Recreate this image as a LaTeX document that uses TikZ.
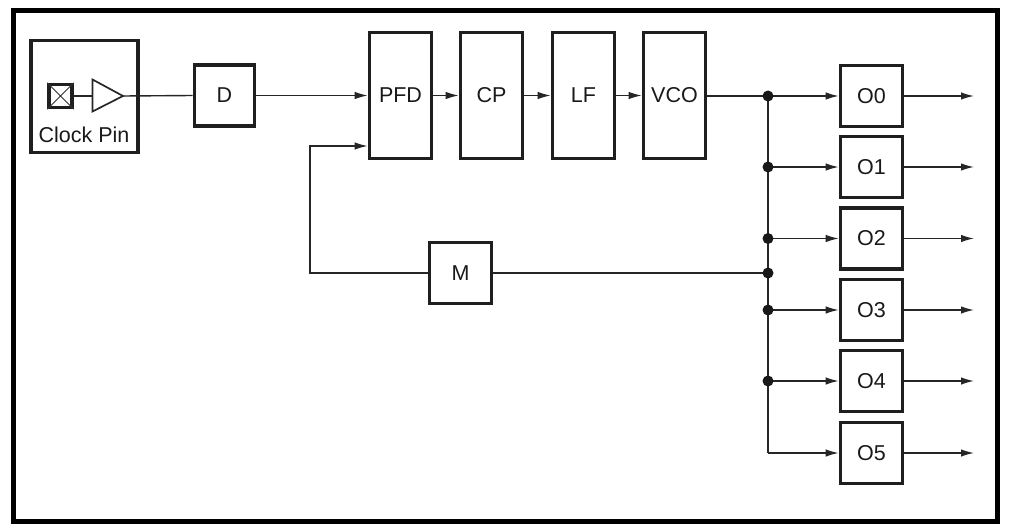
\documentclass[tikz,border=0pt]{standalone}
\usepackage{fontspec}
\setmainfont{Liberation Sans}
\usetikzlibrary{arrows.meta}
\begin{document}
\begin{tikzpicture}[x=1pt,y=-1pt,
  blk/.style={draw=black!88,line width=3.6pt,inner sep=0pt,minimum width=62pt,minimum height=61pt,font=\fontsize{21.5}{24}\selectfont,text=black!90},
  tall/.style={blk,minimum height=126pt},
  wire/.style={draw=black!85,line width=1.4pt},
  arr/.style={wire,-{Latex[length=13pt,width=7.5pt]}},
  dot/.style={circle,fill=black!90,inner sep=0pt,minimum size=11pt}
]
\useasboundingbox (0,0) rectangle (1012,532);
\draw[line width=5.5pt] (13.5,10.5) rectangle (997.5,521.5);
% clock pin block
\node[blk,minimum width=107pt,minimum height=112pt] (clk) at (84.3,96.7) {};
\node[font=\fontsize{21.5}{24}\selectfont,text=black!90] (clklbl) at (84,135) {Clock Pin};
\node[draw=black!88,line width=3.4pt,minimum size=23pt,inner sep=0pt] (pin) at (60.5,96) {};
\draw[black!80,line width=0.9pt] (pin.north west) -- (pin.south east) (pin.north east) -- (pin.south west);
\coordinate (tA) at (92.5,79.5);
\coordinate (tB) at (92.5,111.5);
\coordinate (tip) at (123,96);
\draw[black!85,line width=1.7pt,line join=miter] (tA) -- (tip) -- (tB) -- cycle;
\coordinate (tin) at (92.5,96);
\draw[wire] (pin.east) -- (tin);
% main chain
\node[blk,minimum width=60pt] (D) at (224.5,95.5) {D};
\node[tall] (PFD) at (400.5,95.5) {PFD};
\node[tall] (CP) at (491.5,95.5) {CP};
\node[tall] (LF) at (583.5,95.5) {LF};
\node[tall] (VCO) at (674.5,95.5) {VCO};
\draw[wire] (tip) -- (D.west);
\draw[arr] (D.east) -- (D.east -| PFD.west);
\draw[arr] (PFD) -- (CP);
\draw[arr] (CP) -- (LF);
\draw[arr] (LF) -- (VCO);
% feedback M
\node[blk,minimum width=62pt] (M) at (460.5,273) {M};
\coordinate (fb1) at (310,273);
\coordinate (fb2) at (310,146);
\coordinate (fbin) at (PFD.west |- fb2);
\draw[arr] (M.west) -- (fb1) -- (fb2) -- (fbin);
% output bus
\coordinate (JM) at (768,273);
\foreach \i/\yy in {0/96,1/167,2/238.5,3/310,4/381,5/453}{
  \node[blk] (O\i) at (871.5,\yy) {O\i};
  \coordinate (J\i) at (768,\yy);
  \coordinate (E\i) at (974,\yy);
  \draw[arr] (J\i) -- (O\i);
  \draw[arr] (O\i) -- (E\i);
}
\draw[wire] (VCO.east |- J0) -- (J0);
\draw[wire] (J0) -- (J5);
\draw[wire] (JM) -- (M.east);
\foreach \j in {J0,J1,J2,JM,J3,J4}{\node[dot] at (\j) {};}
\end{tikzpicture}
\end{document}
